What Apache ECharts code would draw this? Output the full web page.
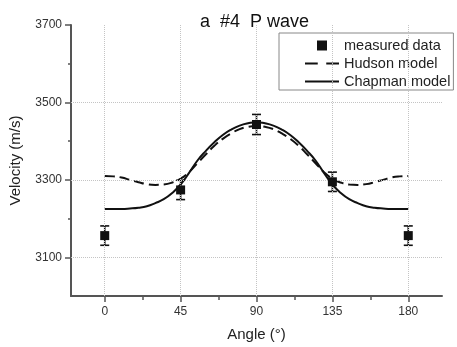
<!DOCTYPE html>
<html>
<head>
<meta charset="utf-8">
<script src="https://cdn.jsdelivr.net/npm/echarts@6.0.0/dist/echarts.min.js"></script>
<style>html,body{margin:0;padding:0;background:#fff}#c{width:457px;height:347px}</style>
</head>
<body>
<div id="c"></div>
<script>
var angles = [0,5,10,15,20,25,30,35,40,45,50,55,60,65,70,75,80,85,90,95,100,105,110,115,120,125,130,135,140,145,150,155,160,165,170,175,180];
var hudson = [3310,3309,3306,3300,3294,3289,3287,3288,3293,3303,3320,3343,3366,3388,3406,3420,3431,3437,3439,3437,3431,3420,3406,3388,3366,3343,3320,3303,3293,3288,3287,3289,3294,3300,3306,3309,3310];
var chapman = [3225,3225,3225,3226,3228,3232,3240,3250,3266,3288,3318,3350,3375,3397,3416,3430,3440,3446,3449,3446,3440,3430,3416,3397,3375,3350,3318,3288,3266,3250,3240,3232,3228,3226,3225,3225,3225];
var measAngles = [0,45,90,135,180];
var measured = [3156,3274,3443,3295,3156];
var measErr = [25,25,26,25,25];
var xMajor = [0,45,90,135,180];
var xMinor = [22.5,67.5,112.5,157.5];
var yMajor = [3100,3300,3500,3700];
var yMinor = [3200,3400,3600];
var yGrid = [3100,3300,3500];

var FONT = '"Liberation Sans", Arial, sans-serif';
var zip = function(a,b){return a.map(function(v,i){return [v,b[i]];});};
var plain = function(v){return String(v);};

var chart = echarts.init(document.getElementById('c'));
var gridLines = xMajor.map(function(v){return {xAxis:v};}).concat(yGrid.map(function(v){return {yAxis:v};}));

chart.setOption({
  animation:false,
  backgroundColor:'#fff',
  title:{text:'a  #4  P wave', left:200, top:13, padding:0,
    textStyle:{fontFamily:FONT, fontSize:18, fontWeight:'normal', color:'#111'}},
  legend:{
    orient:'vertical', left:279, top:33, padding:[5,3,1,26],
    itemWidth:34, itemHeight:10, itemGap:3,
    borderColor:'#888', borderWidth:1,
    textStyle:{fontFamily:FONT, fontSize:14.5, color:'#222'},
    data:[
      {name:'measured data', icon:'path://M0,0L10,0L10,10L0,10Z'},
      {name:'Hudson model', icon:'path://M0,0L12,0L12,2L0,2Z M20,0L32,0L32,2L20,2Z'},
      {name:'Chapman model', icon:'path://M0,0L34,0L34,2L0,2Z'}
    ]
  },
  grid:{left:69, right:15, top:25, bottom:48},
  xAxis:[{
    type:'value', min:-20, max:200, position:'bottom',
    name:'Angle (°)', nameLocation:'middle', nameGap:31,
    nameTextStyle:{fontFamily:FONT, fontSize:15, color:'#222'},
    axisLine:{show:true, onZero:false, lineStyle:{color:'#555', width:2}},
    axisTick:{show:true, customValues:xMajor, length:6, lineStyle:{color:'#555', width:1.5}},
    axisLabel:{customValues:xMajor, formatter:plain, margin:10, fontFamily:FONT, fontSize:12, color:'#333'},
    splitLine:{show:false}
  },{
    type:'value', min:-20, max:200, position:'bottom',
    axisLine:{show:false, onZero:false},
    axisTick:{show:true, customValues:xMinor, length:4, lineStyle:{color:'#555', width:1.5}},
    axisLabel:{show:false}, splitLine:{show:false}
  }],
  yAxis:[{
    type:'value', min:3000, max:3700, position:'left',
    name:'Velocity (m/s)', nameLocation:'middle', nameGap:48,
    nameTextStyle:{fontFamily:FONT, fontSize:15, color:'#222'},
    axisLine:{show:true, onZero:false, lineStyle:{color:'#555', width:2}},
    axisTick:{show:true, customValues:yMajor, length:6, lineStyle:{color:'#555', width:1.5}},
    axisLabel:{customValues:yMajor, formatter:plain, margin:9, fontFamily:FONT, fontSize:12, color:'#333'},
    splitLine:{show:false}
  },{
    type:'value', min:3000, max:3700, position:'left',
    axisLine:{show:false, onZero:false},
    axisTick:{show:true, customValues:yMinor, length:3, lineStyle:{color:'#555', width:1.5}},
    axisLabel:{show:false}, splitLine:{show:false}
  }],
  series:[
    {type:'line', name:'grid', data:[], z:1, silent:true,
     markLine:{silent:true, symbol:'none', label:{show:false},
       lineStyle:{type:'dotted', color:'#c4c4c4', width:1}, data:gridLines}},
    {type:'line', name:'Hudson model', data:zip(angles,hudson), symbol:'none', smooth:true, z:3,
     lineStyle:{color:'#111', width:2, type:[10,5]}, itemStyle:{color:'#111'}},
    {type:'line', name:'Chapman model', data:zip(angles,chapman), symbol:'none', smooth:true, z:3,
     lineStyle:{color:'#111', width:2}, itemStyle:{color:'#111'}},
    {type:'custom', name:'err', z:4,
     data:measAngles.map(function(a,i){return [a, measured[i], measErr[i]];}),
     renderItem:function(params, api){
       var x=api.value(0), y=api.value(1), e=api.value(2);
       var top=api.coord([x,y+e]), bot=api.coord([x,y-e]);
       var hw=4.5, st={stroke:'#111', lineWidth:1.6};
       return {type:'group', children:[
         {type:'line', shape:{x1:top[0],y1:top[1],x2:bot[0],y2:bot[1]}, style:st},
         {type:'line', shape:{x1:top[0]-hw,y1:top[1],x2:top[0]+hw,y2:top[1]}, style:st},
         {type:'line', shape:{x1:bot[0]-hw,y1:bot[1],x2:bot[0]+hw,y2:bot[1]}, style:st}
       ]};
     }},
    {type:'scatter', name:'measured data', data:zip(measAngles,measured), symbol:'rect', symbolSize:9, z:5,
     itemStyle:{color:'#111', opacity:1}}
  ]
});
</script>
</body>
</html>
